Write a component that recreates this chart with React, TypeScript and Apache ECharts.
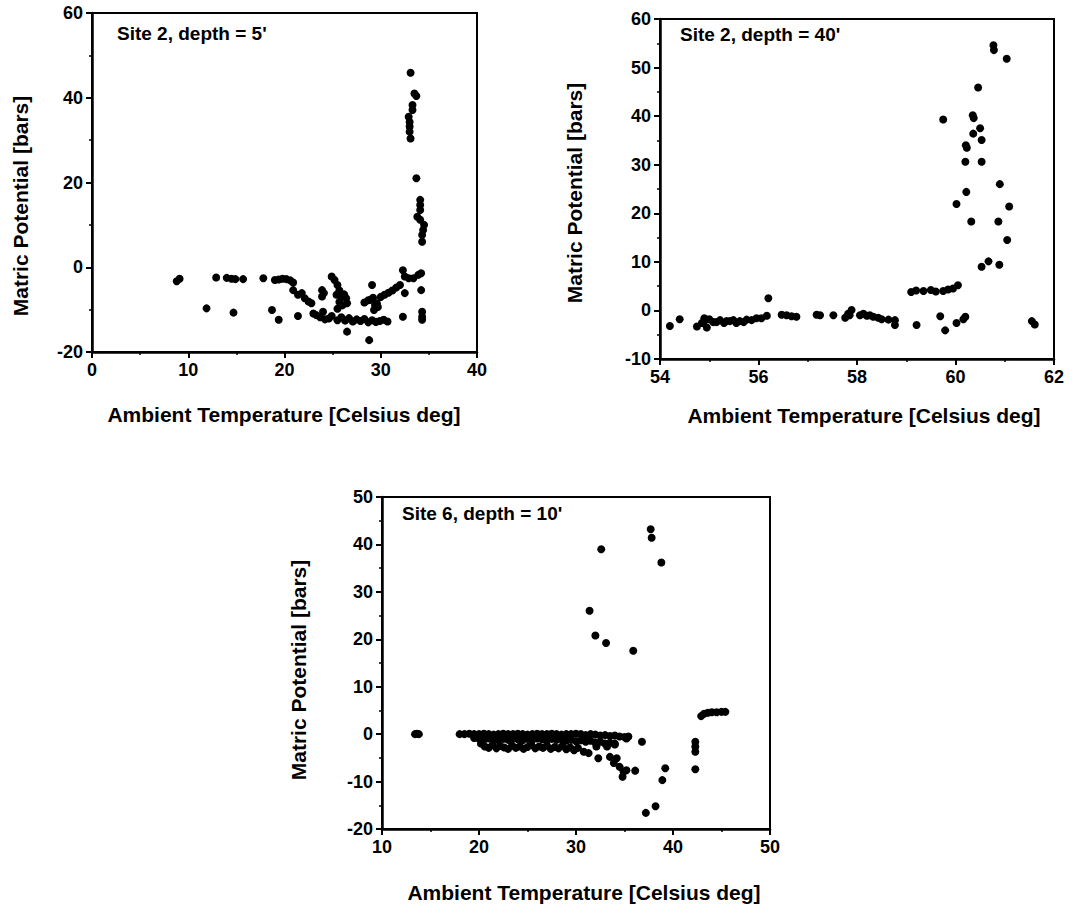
import React, { useEffect, useRef } from "react";
import * as echarts from "echarts";

// ---- Panel 1: Site 2, depth = 5' (temperature, matric potential) ----
const p1Points: [number, number][] = [
  [8.8, -3.3], [9.1, -2.7], [11.9, -9.7], [12.9, -2.4], [14.0, -2.5], [14.5, -2.7], [14.9, -2.8], [15.7, -2.8],
  [14.7, -10.7], [17.8, -2.6], [18.7, -10.1], [19.0, -3.0], [19.4, -12.4],
  [19.4, -2.9], [19.8, -2.7], [20.2, -2.8], [20.6, -3.1], [20.9, -3.6], [20.9, -5.4], [21.4, -6.5], [21.8, -6.1],
  [22.1, -7.3], [22.5, -8.1], [22.8, -8.5],
  [21.4, -11.5], [23.0, -10.9], [23.3, -11.3], [23.7, -11.8], [24.0, -10.5], [24.2, -12.3], [24.6, -12.1], [24.9, -11.5],
  [23.9, -5.4], [24.1, -6.1], [23.9, -6.9],
  [24.9, -2.2], [25.2, -3.0], [25.5, -4.2], [25.7, -5.5], [25.4, -6.5], [25.9, -6.9], [25.7, -8.2], [25.5, -9.8],
  [26.0, -9.0], [26.2, -6.4], [26.4, -7.3], [26.5, -8.5],
  [25.5, -12.5], [25.9, -11.8], [26.3, -12.6], [26.7, -12.0], [27.1, -12.8], [27.5, -12.3], [27.9, -12.7], [28.3, -12.2],
  [28.7, -13.0], [29.1, -12.5], [29.5, -12.9], [29.9, -12.7], [30.3, -12.4], [30.7, -12.8],
  [26.5, -15.2], [28.8, -17.2], [29.1, -4.2],
  [28.3, -8.3], [28.7, -7.8], [29.2, -7.2], [29.6, -8.5], [30.0, -7.0], [30.4, -6.5], [30.8, -6.0], [31.2, -5.5],
  [31.6, -4.8], [32.0, -4.2],
  [28.9, -7.7], [29.4, -8.9], [29.7, -9.4], [29.3, -10.1],
  [32.3, -0.7], [32.5, -2.2], [32.9, -2.6], [33.4, -2.6], [33.9, -1.8], [34.2, -1.4],
  [32.5, -6.1], [32.3, -11.7], [34.2, -5.4], [34.3, -10.5], [34.3, -11.7], [34.3, -12.4],
  [33.1, 45.9], [33.5, 41.0], [33.7, 40.4], [33.3, 38.3], [33.3, 37.1], [32.9, 35.5], [33.0, 34.3], [33.0, 33.2],
  [33.0, 32.0], [33.1, 30.4],
  [33.7, 21.0], [34.1, 15.9], [34.1, 14.7], [34.1, 13.5], [33.8, 11.9], [34.1, 11.2], [34.5, 10.0], [34.4, 8.8],
  [34.3, 7.6], [34.3, 6.0],
];

// ---- Panel 2: Site 2, depth = 40' ----
const p2Points: [number, number][] = [
  [54.2, -3.2], [54.4, -1.8], [54.75, -3.3], [54.85, -2.6], [54.9, -2.2], [54.95, -3.5], [54.9, -1.6], [55.0, -1.8],
  [55.08, -2.4], [55.15, -2.4], [55.22, -2.0], [55.3, -2.6], [55.35, -2.2], [55.42, -2.2], [55.49, -2.0], [55.55, -2.6],
  [55.62, -2.2], [55.7, -2.4], [55.76, -1.9], [55.86, -2.0], [55.96, -1.6], [56.06, -1.6], [56.17, -1.1], [56.2, 2.5],
  [56.47, -0.9], [56.57, -1.0], [56.67, -1.2], [56.77, -1.3], [57.18, -0.9], [57.25, -1.0], [57.52, -1.0],
  [57.76, -1.5], [57.82, -0.7], [57.89, 0.1], [57.85, -1.0],
  [58.06, -1.0], [58.13, -0.7], [58.2, -1.1], [58.26, -1.0], [58.33, -1.3], [58.43, -1.5], [58.5, -1.8], [58.64, -1.9],
  [58.77, -3.0], [58.77, -2.0],
  [59.21, -3.0], [59.1, 3.8], [59.2, 4.1], [59.35, 4.0], [59.5, 4.2], [59.6, 3.9], [59.75, 4.0], [59.85, 4.3],
  [59.95, 4.5], [60.05, 5.2],
  [59.69, -1.2], [59.79, -4.1], [60.02, -2.6], [60.16, -1.8], [60.2, -1.3],
  [59.75, 39.3], [60.02, 21.9], [60.21, 34.0], [60.23, 33.5], [60.2, 30.6], [60.22, 24.4], [60.32, 18.3],
  [60.35, 40.2], [60.37, 39.6], [60.36, 36.4], [60.5, 37.5], [60.53, 35.1], [60.46, 45.9], [60.53, 30.6],
  [60.53, 9.0], [60.67, 10.1], [60.77, 54.6], [60.78, 53.6], [61.04, 51.8], [60.9, 26.0], [60.87, 18.3],
  [60.89, 9.4], [61.09, 21.4], [61.05, 14.5], [61.55, -2.2], [61.61, -2.9],
];

// ---- Panel 3: Site 6, depth = 10' ----
const p3Points: [number, number][] = [
  [13.4, 0.0], [13.6, 0.1], [13.8, 0.0],
  // row near zero
  [18.0, 0.0], [18.5, 0.0], [19.0, 0.1], [19.5, 0.0], [20.0, 0.0], [20.5, 0.1], [21.0, 0.0], [21.5, -0.1],
  [22.0, 0.0], [22.5, 0.1], [23.0, 0.0], [23.5, 0.0], [24.0, 0.1], [24.5, 0.0], [25.0, -0.1], [25.5, 0.0],
  [26.0, 0.1], [26.5, 0.0], [27.0, 0.0], [27.5, 0.1], [28.0, 0.0], [28.5, -0.1], [29.0, 0.0], [29.5, 0.0],
  [30.0, 0.1], [30.5, 0.0], [31.0, -0.2], [31.5, 0.0], [32.0, -0.1], [32.5, -0.3], [33.0, -0.2], [33.5, -0.4],
  [34.0, -0.3], [34.5, -0.5], [35.0, -0.6], [35.4, -0.5],
  // row near -1
  [19.5, -0.8], [20.0, -1.0], [20.5, -1.2], [21.0, -0.9], [21.5, -1.1], [22.0, -1.3], [22.5, -1.0], [23.0, -1.2],
  [23.5, -0.9], [24.0, -1.1], [24.5, -1.3], [25.0, -1.0], [25.5, -1.2], [26.0, -0.9], [26.5, -1.1], [27.0, -1.3],
  [27.5, -1.0], [28.0, -1.2], [28.5, -1.1], [29.0, -1.4], [29.5, -1.2], [30.0, -1.5], [30.5, -1.3], [31.0, -1.6],
  [31.5, -1.4], [32.0, -1.8], [32.5, -1.6], [33.0, -2.0], [33.5, -1.8], [34.0, -2.0],
  // row near -2.5
  [20.2, -2.0], [20.6, -2.6], [21.0, -2.9], [21.4, -2.3], [21.8, -3.0], [22.2, -2.5], [22.6, -2.8], [23.0, -3.1],
  [23.4, -2.4], [23.8, -2.9], [24.2, -2.6], [24.6, -3.1], [25.0, -2.7], [25.4, -2.3], [25.8, -3.0], [26.2, -2.6],
  [26.6, -2.9], [27.0, -2.4], [27.4, -3.1], [27.8, -2.7], [28.2, -3.0], [28.6, -2.5], [29.0, -3.2], [29.4, -2.8],
  [29.8, -3.4], [30.2, -2.9],
  // scattered
  [30.8, -3.7], [31.3, -4.0], [32.3, -5.1], [32.1, -2.6], [33.2, -2.6], [33.5, -4.8], [33.9, -6.1], [34.2, -5.1],
  [34.5, -6.9], [34.9, -7.9], [34.8, -9.0], [35.2, -7.6], [36.1, -7.7], [36.8, -1.6], [34.0, -2.2], [35.2, -0.9],
  [31.4, 26.0], [32.6, 39.0], [32.0, 20.8], [33.1, 19.2], [35.9, 17.6], [37.7, 43.2], [37.8, 41.4], [38.8, 36.2],
  [39.2, -7.2], [38.9, -9.7], [38.2, -15.2], [37.2, -16.6],
  [42.3, -1.6], [42.3, -2.6], [42.3, -3.7], [42.3, -7.4],
  [42.9, 3.8], [43.2, 4.3], [43.6, 4.5], [44.0, 4.6], [44.5, 4.6], [45.0, 4.7], [45.4, 4.7],
];

const panelLabels = ["Site 2, depth = 5'", "Site 2, depth = 40'", "Site 6, depth = 10'"];
const xTitle = "Ambient Temperature [Celsius deg]";
const yTitle = "Matric Potential [bars]";

const FONT = "'Liberation Sans', Arial, Helvetica, sans-serif";

function axisCfg(gridIndex: number, min: number, max: number, interval: number) {
  return {
    type: "value",
    gridIndex,
    min,
    max,
    interval,
    axisLine: { show: true, onZero: false, lineStyle: { color: "#000", width: 2.5 } },
    axisTick: { show: true, inside: false, length: 6, lineStyle: { color: "#000", width: 2 } },
    minorTick: { show: true, splitNumber: 2, length: 3, lineStyle: { color: "#000", width: 1.5 } },
    splitLine: { show: false },
    axisLabel: { color: "#000", fontSize: 18, fontWeight: "bold", fontFamily: FONT, margin: 9 },
  };
}

export default function App() {
  const ref = useRef<HTMLDivElement>(null);
  useEffect(() => {
    if (!ref.current) return;
    const chart = echarts.init(ref.current, null, { renderer: "svg" });
    const grids = [
      { left: 92, top: 13, width: 385, height: 339 },
      { left: 660, top: 19, width: 394, height: 340 },
      { left: 382, top: 497, width: 388, height: 332 },
    ];
    const textStyle = (size: number) => ({ fill: "#000", font: `bold ${size}px ${FONT}` });
    const option: any = {
      animation: false,
      backgroundColor: "#fff",
      grid: grids.map((g) => ({ ...g, show: true, borderColor: "#000", borderWidth: 2, containLabel: false })),
      xAxis: [axisCfg(0, 0, 40, 10), axisCfg(1, 54, 62, 2), axisCfg(2, 10, 50, 10)],
      yAxis: [axisCfg(0, -20, 60, 20), axisCfg(1, -10, 60, 10), axisCfg(2, -20, 50, 10)],
      series: [p1Points, p2Points, p3Points].map((d, i) => ({
        type: "scatter",
        xAxisIndex: i,
        yAxisIndex: i,
        data: d,
        symbol: "circle",
        symbolSize: 8,
        itemStyle: { color: "#000", opacity: 1 },
      })),
      graphic: [
        { type: "text", x: 117, y: 33, style: { ...textStyle(19), text: panelLabels[0], align: "left", verticalAlign: "middle" } },
        { type: "text", x: 680, y: 34, style: { ...textStyle(19), text: panelLabels[1], align: "left", verticalAlign: "middle" } },
        { type: "text", x: 402, y: 513, style: { ...textStyle(19), text: panelLabels[2], align: "left", verticalAlign: "middle" } },
        { type: "text", x: 284, y: 414, style: { ...textStyle(21), text: xTitle, align: "center", verticalAlign: "middle" } },
        { type: "text", x: 864, y: 415, style: { ...textStyle(21), text: xTitle, align: "center", verticalAlign: "middle" } },
        { type: "text", x: 584, y: 892, style: { ...textStyle(21), text: xTitle, align: "center", verticalAlign: "middle" } },
        { type: "text", x: 20, y: 206, rotation: Math.PI / 2, style: { ...textStyle(21), text: yTitle, align: "center", verticalAlign: "middle" } },
        { type: "text", x: 574, y: 193, rotation: Math.PI / 2, style: { ...textStyle(21), text: yTitle, align: "center", verticalAlign: "middle" } },
        { type: "text", x: 298, y: 670, rotation: Math.PI / 2, style: { ...textStyle(21), text: yTitle, align: "center", verticalAlign: "middle" } },
      ],
    };
    chart.setOption(option);
    return () => chart.dispose();
  }, []);
  return (
    <div
      ref={ref}
      style={{ position: "absolute", left: 0, top: 0, width: 1075, height: 905, background: "#fff" }}
    />
  );
}
